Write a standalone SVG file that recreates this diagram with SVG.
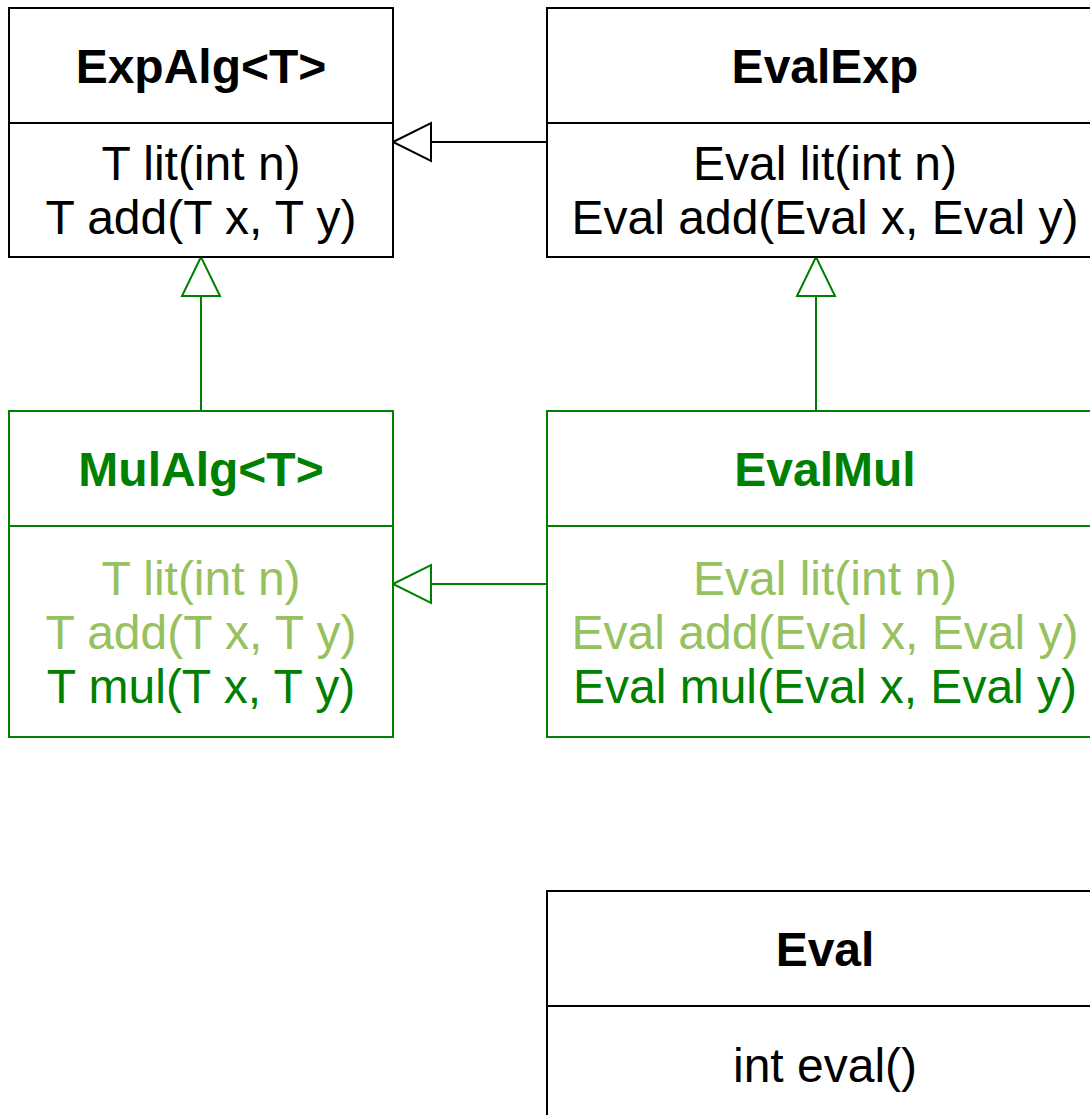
<svg xmlns="http://www.w3.org/2000/svg" width="1090" height="1115" viewBox="0 0 1090 1115">
<style>
text{font-family:"Liberation Sans",Arial,sans-serif;font-size:48px;text-anchor:middle}
.t{font-weight:bold}
.box{fill:#fff;stroke-width:2}
.blk{stroke:#000}
.grn{stroke:#008000}
.line{fill:none;stroke-width:2}
.tri{fill:#fff;stroke-width:2}
.k{fill:#000}
.g{fill:#008000}
.lg{fill:#97c15f}
</style>
<rect width="1090" height="1115" fill="#fff"/>
<g id="connectors">
<line class="line blk" x1="547" y1="142" x2="431" y2="142"/>
<polygon class="tri blk" points="393,142 431,123 431,161"/>
<line class="line grn" x1="201" y1="411" x2="201" y2="296"/>
<polygon class="tri grn" points="201,257 182,296 220,296"/>
<line class="line grn" x1="816" y1="411" x2="816" y2="296"/>
<polygon class="tri grn" points="816,257 797,296 835,296"/>
<line class="line grn" x1="547" y1="584" x2="431" y2="584"/>
<polygon class="tri grn" points="393,584 431,565 431,603"/>
</g>
<g id="ExpAlg">
<rect class="box blk" x="9" y="8" width="384" height="249"/>
<line class="line blk" x1="9" y1="123" x2="393" y2="123"/>
<text class="t k" x="201" y="83">ExpAlg&lt;T&gt;</text>
<text class="k" x="201" y="180">T lit(int n)</text>
<text class="k" x="201" y="234">T add(T x, T y)</text>
</g>
<g id="EvalExp">
<rect class="box blk" x="547" y="8" width="556" height="249"/>
<line class="line blk" x1="547" y1="123" x2="1103" y2="123"/>
<text class="t k" x="825" y="83">EvalExp</text>
<text class="k" x="825" y="180">Eval lit(int n)</text>
<text class="k" x="825" y="234">Eval add(Eval x, Eval y)</text>
</g>
<g id="MulAlg">
<rect class="box grn" x="9" y="411" width="384" height="326"/>
<line class="line grn" x1="9" y1="526" x2="393" y2="526"/>
<text class="t g" x="201" y="486">MulAlg&lt;T&gt;</text>
<text class="lg" x="201" y="595">T lit(int n)</text>
<text class="lg" x="201" y="649">T add(T x, T y)</text>
<text class="g" x="201" y="703">T mul(T x, T y)</text>
</g>
<g id="EvalMul">
<rect class="box grn" x="547" y="411" width="556" height="326"/>
<line class="line grn" x1="547" y1="526" x2="1103" y2="526"/>
<text class="t g" x="825" y="486">EvalMul</text>
<text class="lg" x="825" y="595">Eval lit(int n)</text>
<text class="lg" x="825" y="649">Eval add(Eval x, Eval y)</text>
<text class="g" x="825" y="703">Eval mul(Eval x, Eval y)</text>
</g>
<g id="Eval">
<rect class="box blk" x="547" y="891" width="556" height="240"/>
<line class="line blk" x1="547" y1="1006" x2="1103" y2="1006"/>
<text class="t k" x="825" y="966">Eval</text>
<text class="k" x="825" y="1082">int eval()</text>
</g>
</svg>
